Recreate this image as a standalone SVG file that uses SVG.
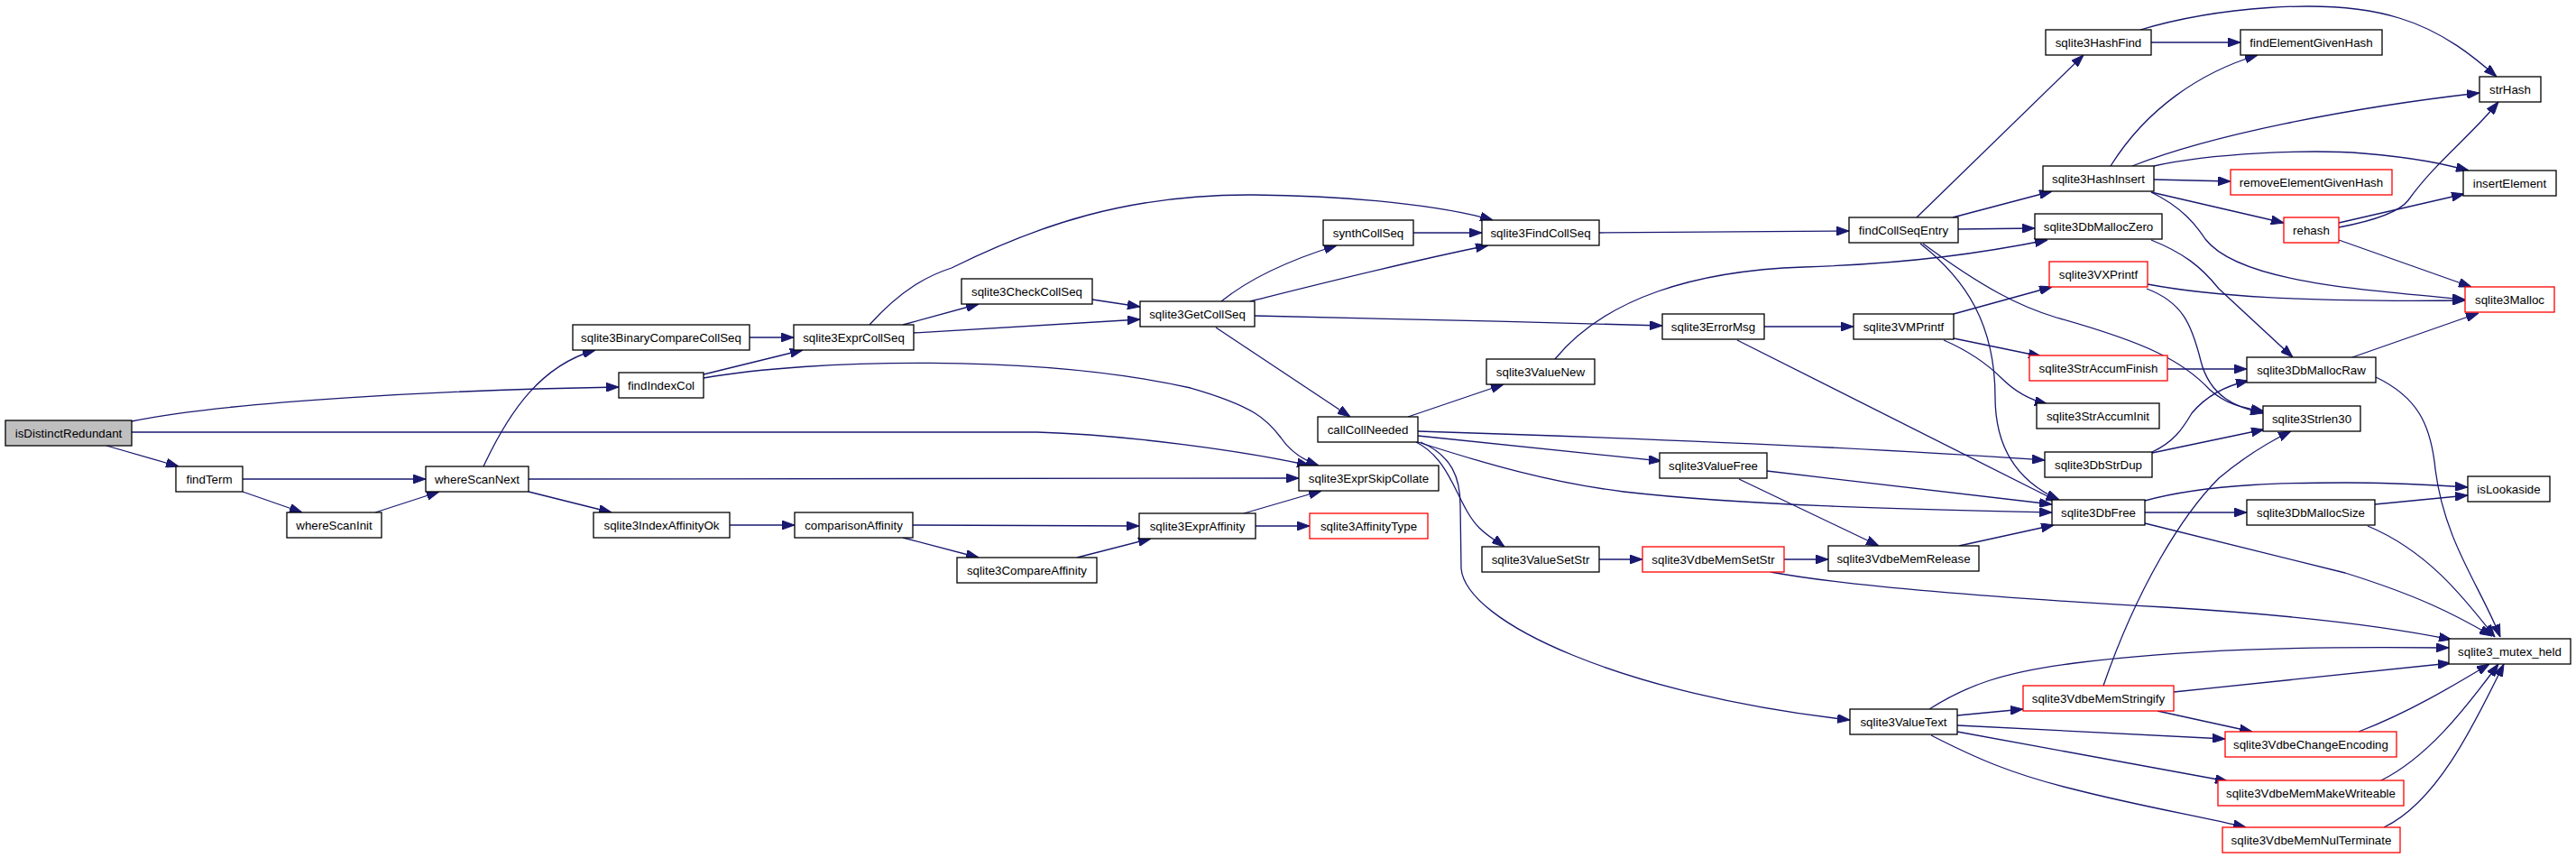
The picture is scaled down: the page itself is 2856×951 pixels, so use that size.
<svg xmlns="http://www.w3.org/2000/svg" width="2856" height="951" viewBox="0 0 2856 951">
<style>
.n rect{fill:#ffffff;stroke:#000000;stroke-width:1.3}
.r rect{fill:#ffffff;stroke:#ff0000;stroke-width:1.3}
.root rect{fill:#bfbfbf;stroke:#000000;stroke-width:1.3}
text{font-family:"Liberation Sans",Arial,sans-serif;font-size:13.33px;fill:#000000;text-anchor:middle}
#edges path{fill:none;stroke:#191970;stroke-width:1.3;marker-end:url(#ah)}
</style>
<defs>
<marker id="ah" markerUnits="userSpaceOnUse" markerWidth="14" markerHeight="10" refX="14" refY="5" orient="auto">
<path d="M0,0 L14,5 L0,10 z" fill="#191970" stroke="#191970" stroke-width="1"/>
</marker>
</defs>
<rect x="0" y="0" width="2856" height="951" fill="#ffffff"/>
<g id="edges">
<path d="M146,467 C250,445 500,432 686,429"/>
<path d="M146,479 L1150,479 C1250,482 1380,500 1452,516"/>
<path d="M118,494 L198,517"/>
<path d="M269,531 L472,531"/>
<path d="M269,545 L335,568"/>
<path d="M416,568 L487,545"/>
<path d="M536,517 C565,455 600,405 660,388"/>
<path d="M586,531 L1440,530"/>
<path d="M586,545 L678,568"/>
<path d="M831,374 L880,374"/>
<path d="M780,415 L890,388"/>
<path d="M780,419 C900,398 1150,392 1320,430 C1390,450 1405,465 1420,485 C1430,500 1445,510 1462,516"/>
<path d="M964,360 C1000,320 1030,305 1055,297 C1150,250 1250,215 1390,216 C1500,217 1600,228 1655,244"/>
<path d="M1001,360 L1085,337"/>
<path d="M1013,369 L1264,354"/>
<path d="M1211,332 L1264,340"/>
<path d="M809,582 L881,582"/>
<path d="M1012,582 L1263,583"/>
<path d="M1001,596 L1085,618"/>
<path d="M1194,618 L1276,597"/>
<path d="M1379,569 L1465,544"/>
<path d="M1392,583 L1452,583"/>
<path d="M1354,334 C1390,305 1440,285 1482,272"/>
<path d="M1386,334 C1450,318 1560,290 1650,272"/>
<path d="M1391,350 C1500,352 1700,357 1843,361"/>
<path d="M1348,363 L1497,462"/>
<path d="M1567,258 L1643,258"/>
<path d="M1773,258 L2050,256"/>
<path d="M1561,462 L1667,426"/>
<path d="M1572,478 C1800,485 2050,495 2267,510"/>
<path d="M1572,483 L1842,511"/>
<path d="M1572,490 C1650,515 1720,535 1800,545 C1950,562 2150,565 2275,568"/>
<path d="M1570,490 C1610,510 1615,560 1640,585 C1650,595 1660,600 1668,606"/>
<path d="M1575,490 C1610,505 1619,530 1619,560 L1620,630 C1625,690 1800,770 2051,798"/>
<path d="M1724,398 C1780,330 1880,300 2000,296 C2120,292 2200,280 2270,266"/>
<path d="M1956,362 L2055,362"/>
<path d="M1926,377 L2282,556"/>
<path d="M2166,348 L2275,318"/>
<path d="M2166,375 L2263,395"/>
<path d="M2155,377 C2185,390 2205,405 2220,420 C2235,435 2250,443 2270,448"/>
<path d="M2125,241 L2310,61"/>
<path d="M2165,241 L2275,212"/>
<path d="M2171,254 L2256,253"/>
<path d="M2132,270 C2200,320 2240,340 2280,352 C2380,380 2420,400 2450,432 C2470,450 2490,452 2510,456"/>
<path d="M2129,270 C2180,310 2212,360 2212,440 C2212,500 2240,535 2283,554"/>
<path d="M2385,47 L2484,47"/>
<path d="M2373,33 C2450,10 2580,-5 2660,20 C2710,35 2745,65 2768,85"/>
<path d="M2340,184 C2380,120 2440,80 2503,61"/>
<path d="M2364,184 C2450,150 2600,120 2749,103"/>
<path d="M2388,184 C2450,170 2560,165 2620,170 C2680,175 2710,182 2737,189"/>
<path d="M2388,199 L2473,201"/>
<path d="M2385,213 L2532,247"/>
<path d="M2385,213 C2420,230 2435,250 2445,265 C2480,310 2600,320 2733,332"/>
<path d="M2593,252 C2630,245 2660,235 2670,222 C2700,180 2740,150 2770,113"/>
<path d="M2593,247 L2732,215"/>
<path d="M2593,266 L2740,318"/>
<path d="M2385,266 C2420,280 2440,295 2460,320 L2542,396"/>
<path d="M2381,315 C2450,328 2550,335 2733,333"/>
<path d="M2380,320 C2420,335 2430,360 2440,400 C2450,440 2480,452 2509,458"/>
<path d="M2403,409 L2491,409"/>
<path d="M2608,396 L2748,347"/>
<path d="M2634,418 C2680,440 2695,470 2700,520 C2710,600 2750,650 2772,706"/>
<path d="M2386,501 C2410,490 2420,475 2430,458 C2445,440 2465,428 2493,422"/>
<path d="M2386,502 L2510,476"/>
<path d="M1959,522 L2275,559"/>
<path d="M1928,531 L2083,605"/>
<path d="M2378,555 C2450,535 2550,535 2600,535 C2660,535 2700,538 2736,540"/>
<path d="M2378,568 L2491,568"/>
<path d="M2378,580 L2600,635 C2680,660 2720,680 2763,705"/>
<path d="M2633,559 L2736,549"/>
<path d="M2625,583 C2690,610 2730,660 2766,706"/>
<path d="M2172,605 L2277,582"/>
<path d="M1773,620 L1821,620"/>
<path d="M1978,620 L2027,620"/>
<path d="M1963,634 C2050,650 2200,662 2400,673 C2550,682 2650,695 2718,709"/>
<path d="M2139,786 C2180,760 2220,745 2300,735 C2420,720 2550,716 2715,718"/>
<path d="M2170,793 L2243,786"/>
<path d="M2170,804 L2467,819"/>
<path d="M2170,811 L2470,866"/>
<path d="M2141,815 C2190,840 2230,858 2300,875 C2370,893 2440,905 2490,917"/>
<path d="M2332,760 C2370,650 2420,570 2460,530 C2490,505 2515,490 2540,478"/>
<path d="M2410,767 L2717,735"/>
<path d="M2392,788 L2497,811"/>
<path d="M2615,811 C2670,790 2720,760 2760,736"/>
<path d="M2640,865 C2690,840 2730,790 2770,736"/>
<path d="M2643,917 C2700,890 2740,810 2776,736"/>
</g>
<g id="isDistinctRedundant" class="root"><rect x="6" y="466" width="140" height="28"/><text x="76" y="485">isDistinctRedundant</text></g>
<g id="findTerm" class="n"><rect x="195" y="517" width="74" height="28"/><text x="232" y="536">findTerm</text></g>
<g id="whereScanInit" class="n"><rect x="318" y="568" width="105" height="28"/><text x="370.5" y="587">whereScanInit</text></g>
<g id="whereScanNext" class="n"><rect x="472" y="517" width="114" height="28"/><text x="529" y="536">whereScanNext</text></g>
<g id="sqlite3BinaryCompareCollSeq" class="n"><rect x="635" y="360" width="196" height="28"/><text x="733" y="379">sqlite3BinaryCompareCollSeq</text></g>
<g id="findIndexCol" class="n"><rect x="686" y="413" width="94" height="28"/><text x="733" y="432">findIndexCol</text></g>
<g id="sqlite3IndexAffinityOk" class="n"><rect x="658" y="568" width="151" height="28"/><text x="733.5" y="587">sqlite3IndexAffinityOk</text></g>
<g id="sqlite3ExprCollSeq" class="n"><rect x="880" y="360" width="133" height="28"/><text x="946.5" y="379">sqlite3ExprCollSeq</text></g>
<g id="comparisonAffinity" class="n"><rect x="881" y="568" width="131" height="28"/><text x="946.5" y="587">comparisonAffinity</text></g>
<g id="sqlite3CheckCollSeq" class="n"><rect x="1066" y="309" width="145" height="28"/><text x="1138.5" y="328">sqlite3CheckCollSeq</text></g>
<g id="sqlite3CompareAffinity" class="n"><rect x="1061" y="618" width="155" height="28"/><text x="1138.5" y="637">sqlite3CompareAffinity</text></g>
<g id="sqlite3GetCollSeq" class="n"><rect x="1264" y="334" width="127" height="28"/><text x="1327.5" y="353">sqlite3GetCollSeq</text></g>
<g id="sqlite3ExprAffinity" class="n"><rect x="1263" y="569" width="129" height="28"/><text x="1327.5" y="588">sqlite3ExprAffinity</text></g>
<g id="synthCollSeq" class="n"><rect x="1467" y="244" width="100" height="28"/><text x="1517" y="263">synthCollSeq</text></g>
<g id="callCollNeeded" class="n"><rect x="1461" y="462" width="111" height="28"/><text x="1516.5" y="481">callCollNeeded</text></g>
<g id="sqlite3ExprSkipCollate" class="n"><rect x="1440" y="516" width="155" height="28"/><text x="1517.5" y="535">sqlite3ExprSkipCollate</text></g>
<g id="sqlite3AffinityType" class="r"><rect x="1452" y="569" width="131" height="28"/><text x="1517.5" y="588">sqlite3AffinityType</text></g>
<g id="sqlite3FindCollSeq" class="n"><rect x="1643" y="244" width="130" height="28"/><text x="1708" y="263">sqlite3FindCollSeq</text></g>
<g id="sqlite3ValueNew" class="n"><rect x="1648" y="398" width="120" height="28"/><text x="1708" y="417">sqlite3ValueNew</text></g>
<g id="sqlite3ValueSetStr" class="n"><rect x="1643" y="606" width="130" height="28"/><text x="1708" y="625">sqlite3ValueSetStr</text></g>
<g id="sqlite3ErrorMsg" class="n"><rect x="1843" y="348" width="113" height="28"/><text x="1899.5" y="367">sqlite3ErrorMsg</text></g>
<g id="sqlite3ValueFree" class="n"><rect x="1840" y="502" width="119" height="28"/><text x="1899.5" y="521">sqlite3ValueFree</text></g>
<g id="sqlite3VdbeMemSetStr" class="r"><rect x="1821" y="606" width="157" height="28"/><text x="1899.5" y="625">sqlite3VdbeMemSetStr</text></g>
<g id="findCollSeqEntry" class="n"><rect x="2050" y="241" width="121" height="28"/><text x="2110.5" y="260">findCollSeqEntry</text></g>
<g id="sqlite3VMPrintf" class="n"><rect x="2055" y="348" width="111" height="28"/><text x="2110.5" y="367">sqlite3VMPrintf</text></g>
<g id="sqlite3VdbeMemRelease" class="n"><rect x="2027" y="605" width="167" height="28"/><text x="2110.5" y="624">sqlite3VdbeMemRelease</text></g>
<g id="sqlite3ValueText" class="n"><rect x="2051" y="786" width="119" height="28"/><text x="2110.5" y="805">sqlite3ValueText</text></g>
<g id="sqlite3HashFind" class="n"><rect x="2268" y="33" width="117" height="28"/><text x="2326.5" y="52">sqlite3HashFind</text></g>
<g id="sqlite3HashInsert" class="n"><rect x="2265" y="184" width="123" height="28"/><text x="2326.5" y="203">sqlite3HashInsert</text></g>
<g id="sqlite3DbMallocZero" class="n"><rect x="2256" y="237" width="141" height="28"/><text x="2326.5" y="256">sqlite3DbMallocZero</text></g>
<g id="sqlite3VXPrintf" class="r"><rect x="2272" y="290" width="109" height="28"/><text x="2326.5" y="309">sqlite3VXPrintf</text></g>
<g id="sqlite3StrAccumFinish" class="r"><rect x="2250" y="394" width="153" height="28"/><text x="2326.5" y="413">sqlite3StrAccumFinish</text></g>
<g id="sqlite3StrAccumInit" class="n"><rect x="2258" y="447" width="136" height="28"/><text x="2326" y="466">sqlite3StrAccumInit</text></g>
<g id="sqlite3DbStrDup" class="n"><rect x="2267" y="501" width="119" height="28"/><text x="2326.5" y="520">sqlite3DbStrDup</text></g>
<g id="sqlite3DbFree" class="n"><rect x="2275" y="554" width="103" height="28"/><text x="2326.5" y="573">sqlite3DbFree</text></g>
<g id="sqlite3VdbeMemStringify" class="r"><rect x="2243" y="760" width="167" height="28"/><text x="2326.5" y="779">sqlite3VdbeMemStringify</text></g>
<g id="findElementGivenHash" class="n"><rect x="2484" y="33" width="157" height="28"/><text x="2562.5" y="52">findElementGivenHash</text></g>
<g id="removeElementGivenHash" class="r"><rect x="2473" y="188" width="179" height="28"/><text x="2562.5" y="207">removeElementGivenHash</text></g>
<g id="rehash" class="r"><rect x="2532" y="241" width="61" height="28"/><text x="2562.5" y="260">rehash</text></g>
<g id="sqlite3DbMallocRaw" class="n"><rect x="2491" y="396" width="143" height="28"/><text x="2562.5" y="415">sqlite3DbMallocRaw</text></g>
<g id="sqlite3Strlen30" class="n"><rect x="2509" y="450" width="108" height="28"/><text x="2563" y="469">sqlite3Strlen30</text></g>
<g id="sqlite3DbMallocSize" class="n"><rect x="2491" y="554" width="142" height="28"/><text x="2562" y="573">sqlite3DbMallocSize</text></g>
<g id="sqlite3VdbeChangeEncoding" class="r"><rect x="2467" y="811" width="190" height="28"/><text x="2562" y="830">sqlite3VdbeChangeEncoding</text></g>
<g id="sqlite3VdbeMemMakeWriteable" class="r"><rect x="2459" y="865" width="206" height="28"/><text x="2562" y="884">sqlite3VdbeMemMakeWriteable</text></g>
<g id="sqlite3VdbeMemNulTerminate" class="r"><rect x="2464" y="917" width="197" height="28"/><text x="2562.5" y="936">sqlite3VdbeMemNulTerminate</text></g>
<g id="strHash" class="n"><rect x="2749" y="85" width="68" height="28"/><text x="2783" y="104">strHash</text></g>
<g id="insertElement" class="n"><rect x="2731" y="189" width="103" height="28"/><text x="2782.5" y="208">insertElement</text></g>
<g id="sqlite3Malloc" class="r"><rect x="2733" y="318" width="99" height="28"/><text x="2782.5" y="337">sqlite3Malloc</text></g>
<g id="isLookaside" class="n"><rect x="2736" y="528" width="91" height="28"/><text x="2781.5" y="547">isLookaside</text></g>
<g id="sqlite3_mutex_held" class="n"><rect x="2715" y="708" width="135" height="28"/><text x="2782.5" y="727">sqlite3_mutex_held</text></g>
</svg>
